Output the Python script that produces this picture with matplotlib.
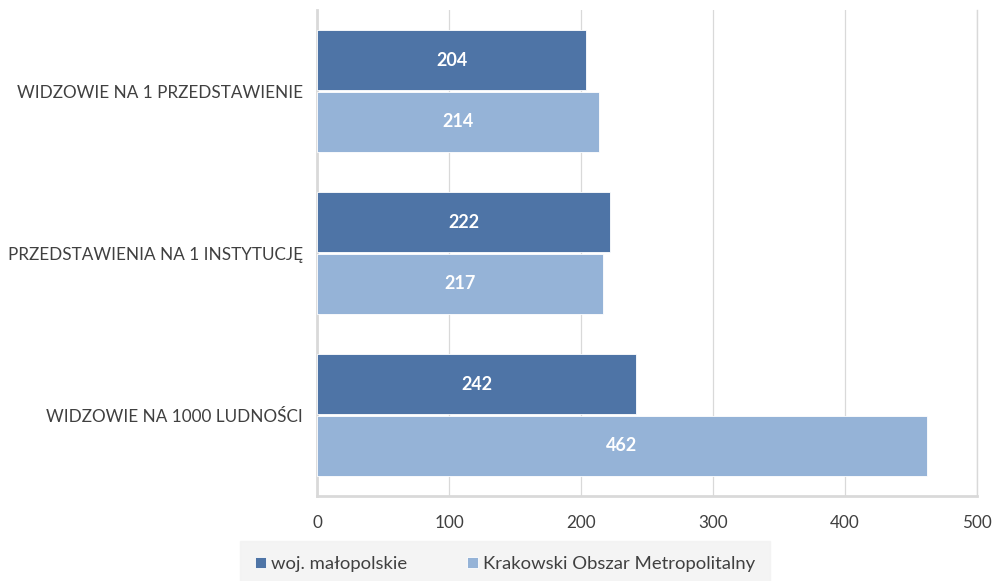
import matplotlib
matplotlib.use("Agg")
import matplotlib.pyplot as plt
import numpy as np

categories = ["WIDZOWIE NA 1 PRZEDSTAWIENIE", "PRZEDSTAWIENIA NA 1 INSTYTUCJĘ", "WIDZOWIE NA 1000 LUDNOŚCI"]
malopolskie = [204, 222, 242]
kom = [214, 217, 462]
series_names = ["woj. małopolskie", "Krakowski Obszar Metropolitalny"]
xticks = [0, 100, 200, 300, 400, 500]

plt.rcParams['font.family'] = ['Lato', 'DejaVu Sans']
dark = "#4E74A6"
light = "#95B3D7"
txt = "#404040"

fig = plt.figure(figsize=(9.97, 5.81), dpi=100)
ax = fig.add_axes([317/997, 1 - 496/581, (977-317)/997, (496-10)/581])

y = np.arange(len(categories))
h = 0.37
b1 = ax.barh(y - h/2 - 0.006, malopolskie, height=h, color=dark, edgecolor="#ffffff", linewidth=0.6, label=series_names[0], zorder=3)
b2 = ax.barh(y + h/2 + 0.006, kom, height=h, color=light, edgecolor="#ffffff", linewidth=0.6, label=series_names[1], zorder=3)
for bars in (b1, b2):
    ax.bar_label(bars, labels=[str(v) for v in bars.datavalues], label_type="center",
                 color="white", fontweight="bold", fontsize=13)

ax.set_ylim(2.5, -0.5)
ax.set_xlim(0, 500)
ax.set_xticks(xticks)
ax.set_yticks(y)
ax.set_yticklabels(categories)
ax.tick_params(axis="both", length=0, colors=txt, labelsize=12.3)
ax.tick_params(axis="x", pad=14)
ax.tick_params(axis="y", pad=10)
ax.grid(axis="x", color="#d9d9d9", linewidth=0.9, zorder=0)
ax.spines["top"].set_visible(False)
for s in ["left", "bottom", "right"]:
    ax.spines[s].set_color("#d9d9d9")
    ax.spines[s].set_linewidth(1.0)
ax.spines["left"].set_linewidth(2)
ax.spines["bottom"].set_linewidth(2)

leg = fig.legend(handles=[b1, b2], labels=series_names, loc="center", bbox_to_anchor=(505/997, 1 - 564/581),
                 ncol=2, frameon=True, fontsize=13.3, handlelength=0.6, handleheight=0.6,
                 columnspacing=3.2, handletextpad=0.3, borderpad=0.5, borderaxespad=0)
leg.get_frame().set_facecolor("#f2f2f2")
leg.get_frame().set_edgecolor("#f2f2f2")
leg.get_frame().set_boxstyle("square")
for t in leg.get_texts():
    t.set_color(txt)

fig.savefig("out.png", dpi=100)
